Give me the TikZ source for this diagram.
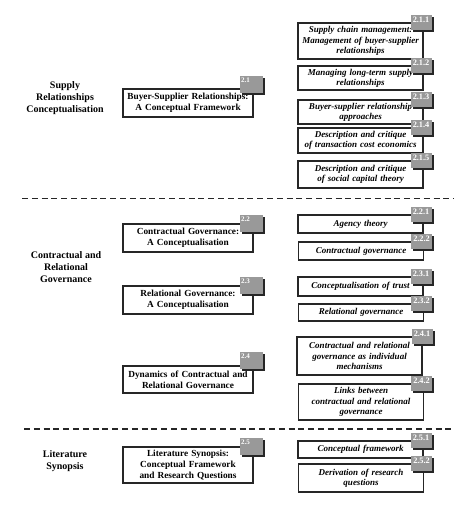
\documentclass[tikz,border=0pt]{standalone}
\usepackage{fontspec}
\setmainfont{Liberation Serif}
\usetikzlibrary{shadows}
\begin{document}
\begin{tikzpicture}[x=1pt,y=-1pt,
 mainbox/.style={draw=black!85, line width=1.1pt, fill=white, minimum width=130pt, text width=126pt, align=center, inner sep=0pt, font=\fontsize{9.3}{11}\selectfont\bfseries},
 subbox/.style={draw=black!85, line width=1.1pt, fill=white, minimum width=125pt, text width=123pt, align=center, inner sep=0pt, font=\fontsize{9}{10.3}\selectfont\bfseries\itshape},
 maintag/.style={fill=black!40, text=white, font=\fontsize{7}{7}\selectfont\bfseries, inner sep=1.5pt, text width=20pt, text height=5pt, text depth=9pt, align=left, drop shadow={shadow xshift=2pt, shadow yshift=-2pt, opacity=1, fill=black!85}},
 subtag/.style={fill=black!40, text=white, font=\fontsize{8.3}{8.3}\selectfont\bfseries, inner sep=1.5pt, text width=18pt, text height=6pt, text depth=6pt, align=center, drop shadow={shadow xshift=2pt, shadow yshift=-2pt, opacity=1, fill=black!85}},
 seclabel/.style={align=center, inner sep=0pt, font=\fontsize{10}{12}\selectfont\bfseries},
 sepline/.style={line width=1.8pt, dash pattern=on 6pt off 3.8pt, black!85}
]
\fill[white] (0,0) rectangle (474,508);
\useasboundingbox (0,0) rectangle (474,508);

% section labels
\node[seclabel] (l1) at (65,98) {Supply\\Relationships\\Conceptualisation};
\node[seclabel] (l2) at (66,267) {Contractual and\\Relational\\Governance};
\node[seclabel] (l3) at (65,461) {Literature\\Synopsis};

% separators
\coordinate (d1a) at (22,198.5);
\coordinate (d1b) at (454,198.5);
\coordinate (d2a) at (24,429);
\coordinate (d2b) at (455,429);
\draw[sepline] (d1a) -- (d1b);
\draw[sepline] (d2a) -- (d2b);

% main boxes
\node[mainbox, minimum height=28pt] (b21) at (188,103) {Buyer-Supplier Relationships:\\A Conceptual Framework};
\node[mainbox, minimum height=28pt] (b22) at (188,238) {Contractual Governance:\\A Conceptualisation};
\node[mainbox, minimum height=28pt] (b23) at (188,300) {Relational Governance:\\A Conceptualisation};
\node[mainbox, minimum height=27pt] (b24) at (188,379.5) {Dynamics of Contractual and\\Relational Governance};
\node[mainbox, minimum height=36pt] (b25) at (188,465) {Literature Synopsis:\\Conceptual Framework\\and Research Questions};

% sub boxes
\node[subbox, minimum height=36pt] (s211) at (360.5,41) {Supply chain management:\\Management of buyer-supplier\\relationships};
\node[subbox, minimum height=24pt] (s212) at (360.5,78) {Managing long-term supply\\relationships};
\node[subbox, minimum height=24pt] (s213) at (360.5,112) {Buyer-supplier relationship\\approaches};
\node[subbox, minimum height=25pt] (s214) at (360.5,140.5) {Description and critique\\of transaction cost economics};
\node[subbox, minimum height=27pt] (s215) at (360.5,174.5) {Description and critique\\of social capital theory};
\node[subbox, minimum height=18pt] (s221) at (360.5,224) {Agency theory};
\node[subbox, minimum height=18pt] (s222) at (361,251) {Contractual governance};
\node[subbox, minimum height=19pt] (s231) at (360.5,286.5) {Conceptualisation of trust};
\node[subbox, minimum height=17pt] (s232) at (361,312.5) {Relational governance};
\node[subbox, minimum height=38pt] (s241) at (359.5,356) {Contractual and relational\\governance as individual\\mechanisms};
\node[subbox, minimum height=36pt] (s242) at (361,402) {Links between\\contractual and relational\\governance};
\node[subbox, minimum height=17pt] (s251) at (360.5,449.5) {Conceptual framework};
\node[subbox, minimum height=28pt] (s252) at (361,478) {Derivation of research\\questions};

% tags on main boxes
\node[maintag] (t21) at ([xshift=-2.5pt,yshift=4pt]b21.north east) {2.1};
\node[maintag] (t22) at ([xshift=-2.5pt]b22.north east) {2.2};
\node[maintag] (t23) at ([xshift=-2.5pt]b23.north east) {2.3};
\node[maintag] (t24) at ([xshift=-2.5pt,yshift=5pt]b24.north east) {2.4};
\node[maintag] (t25) at ([xshift=-2.5pt]b25.north east) {2.5};

% tags on sub boxes
\node[subtag] (t211) at ([xshift=-2.5pt]s211.north east) {2.1.1};
\node[subtag] (t212) at ([xshift=-2.5pt]s212.north east) {2.1.2};
\node[subtag] (t213) at ([xshift=-2.5pt]s213.north east) {2.1.3};
\node[subtag] (t214) at ([xshift=-2.5pt]s214.north east) {2.1.4};
\node[subtag] (t215) at ([xshift=-2.5pt]s215.north east) {2.1.5};
\node[subtag] (t221) at ([xshift=-2.5pt]s221.north east) {2.2.1};
\node[subtag] (t222) at ([xshift=-2.5pt]s222.north east) {2.2.2};
\node[subtag] (t231) at ([xshift=-2.5pt]s231.north east) {2.3.1};
\node[subtag] (t232) at ([xshift=-2.5pt]s232.north east) {2.3.2};
\node[subtag] (t241) at ([xshift=-0.5pt]s241.north east) {2.4.1};
\node[subtag] (t242) at ([xshift=-2.5pt]s242.north east) {2.4.2};
\node[subtag] (t251) at ([xshift=-2.5pt]s251.north east) {2.5.1};
\node[subtag] (t252) at ([xshift=-2.5pt]s252.north east) {2.5.2};
\end{tikzpicture}
\end{document}
